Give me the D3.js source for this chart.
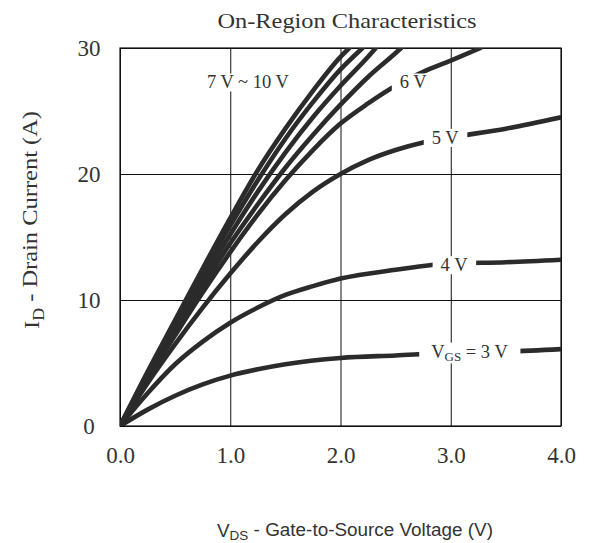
<!DOCTYPE html>
<html>
<head>
<meta charset="utf-8">
<script src="https://cdn.jsdelivr.net/npm/d3@7"></script>
<style>
  body { margin: 0; background: #fff; }
  text { font-family: "Liberation Serif", "Times New Roman", serif; fill: #333; }
  .sans { font-family: "Liberation Sans", Arial, sans-serif; }
</style>
</head>
<body>
<svg id="chart" width="593" height="543"></svg>
<script>
// [VDS (V), ID (A)]
var vgs3 = [[0,0],[0.25,1.3],[0.5,2.4],[0.75,3.3],[1.0,4.0],[1.25,4.5],[1.5,4.9],[2.0,5.4],[2.5,5.6],[3.0,5.8],[3.5,5.9],[4.0,6.1]];
var vgs4 = [[0,0],[0.25,2.6],[0.5,4.9],[0.75,6.7],[1.0,8.2],[1.25,9.4],[1.5,10.4],[1.75,11.1],[2.0,11.7],[2.5,12.4],[3.0,12.9],[3.5,13.0],[4.0,13.2]];
var vgs5 = [[0,0],[0.25,3.4],[0.5,6.5],[0.75,9.4],[1.0,12.1],[1.25,14.6],[1.5,16.8],[1.75,18.6],[2.0,20.0],[2.25,21.1],[2.5,21.9],[2.75,22.5],[3.0,22.9],[3.5,23.6],[4.0,24.5]];
var vgs6 = [[0,0],[0.25,3.7],[0.5,7.2],[0.75,10.6],[1.0,13.8],[1.25,16.8],[1.5,19.5],[1.75,21.9],[2.0,24.0],[2.25,25.6],[2.5,27.0],[2.75,28.1],[3.0,29.0],[3.27,30]];
var vgs7 = [[0,0],[0.25,3.9],[0.5,7.6],[0.75,11.1],[1.0,14.5],[1.25,17.6],[1.5,20.5],[1.75,23.1],[2.0,25.5],[2.25,27.7],[2.5,29.6],[2.55,30]];
var vgs8 = [[0,0],[0.25,4.0],[0.5,7.9],[0.75,11.6],[1.0,15.2],[1.25,18.6],[1.5,21.7],[1.75,24.5],[2.0,27.0],[2.25,29.3],[2.32,30]];
var vgs9 = [[0,0],[0.25,4.2],[0.5,8.2],[0.75,12.1],[1.0,15.9],[1.25,19.5],[1.5,22.8],[1.75,25.7],[2.0,28.3],[2.2,30]];
var vgs10 = [[0,0],[0.25,4.3],[0.5,8.4],[0.75,12.5],[1.0,16.5],[1.25,20.3],[1.5,23.6],[1.75,26.6],[2.0,29.3],[2.08,30]];

var xTicks = [0, 1, 2, 3, 4];
var yTicks = [0, 10, 20, 30];

// curve labels, anchored in data units
var labelText = ["7 V ~ 10 V", "6 V", "5 V", "4 V", "3 V"];
var labelVds = [1.16, 2.66, 2.95, 3.03, 3.17];
var labelId = [27.3, 27.3, 22.9, 12.8, 5.9];

var svg = d3.select("#chart");
var plotL = 120, plotR = 561, plotT = 48, plotB = 426;

var x = d3.scaleLinear().domain([0, 4]).range([plotL, plotR]);
var y = d3.scaleLinear().domain([0, 30]).range([plotB, plotT]);

svg.append("defs").append("clipPath").attr("id", "plot")
  .append("rect").attr("x", plotL).attr("y", plotT)
  .attr("width", plotR - plotL).attr("height", plotB - plotT);

// grid + x tick labels
var gx = svg.append("g").attr("transform", "translate(0," + plotB + ")")
  .call(d3.axisBottom(x).tickValues(xTicks).tickFormat(d3.format(".1f"))
    .tickSize(-(plotB - plotT)).tickPadding(21));
gx.select(".domain").remove();
gx.selectAll("line").attr("stroke", "#111");
gx.selectAll("text").attr("font-size", 23).attr("font-family", "Liberation Serif").attr("fill", "#333");

var gy = svg.append("g").attr("transform", "translate(" + plotL + ",0)")
  .call(d3.axisLeft(y).tickValues(yTicks).tickSize(-(plotR - plotL)).tickPadding(20));
gy.select(".domain").remove();
gy.selectAll("line").attr("stroke", "#111");
gy.selectAll("text").attr("font-size", 23).attr("font-family", "Liberation Serif").attr("fill", "#333")
  .attr("text-anchor", "middle").attr("x", -31);

svg.append("rect").attr("x", plotL).attr("y", plotT)
  .attr("width", plotR - plotL).attr("height", plotB - plotT)
  .attr("fill", "none").attr("stroke", "#111").attr("stroke-width", 1.2);

// curves
var line = d3.line().x(function(d) { return x(d[0]); }).y(function(d) { return y(d[1]); })
  .curve(d3.curveMonotoneX);

var series = [vgs3, vgs4, vgs5, vgs6, vgs7, vgs8, vgs9, vgs10];
svg.append("g").attr("clip-path", "url(#plot)")
  .selectAll("path").data(series).enter().append("path")
  .attr("d", line)
  .attr("fill", "none")
  .attr("stroke", "#2b2b2b")
  .attr("stroke-width", 4.6)
  .attr("stroke-linecap", "round");

// labels with white knock-out behind them
labelText.forEach(function(t, i) {
  var g = svg.append("g");
  var bg = g.append("rect").attr("fill", "#fff");
  var txt = g.append("text")
    .attr("x", x(labelVds[i])).attr("y", y(labelId[i]))
    .attr("dy", "0.35em")
    .attr("text-anchor", "middle")
    .attr("font-size", 18.5);
  if (i == 4) {
    txt.append("tspan").text("V");
    txt.append("tspan").text("GS").attr("font-size", 13).attr("dy", "0.25em");
    txt.append("tspan").text(" = 3 V").attr("dy", "-0.2em");
  } else {
    txt.text(t);
  }
  var b = txt.node().getBBox();
  var pad = i == 4 ? 12 : 8;
  bg.attr("x", b.x - pad).attr("y", b.y + 1)
    .attr("width", b.width + 2 * pad).attr("height", b.height - 2);
});

// title
svg.append("text").attr("x", 347).attr("y", 28)
  .attr("text-anchor", "middle").attr("font-size", 21)
  .attr("textLength", 259).attr("lengthAdjust", "spacingAndGlyphs")
  .text("On-Region Characteristics");

// y title
var yt = svg.append("text")
  .attr("transform", "translate(39,220) rotate(-90)")
  .attr("text-anchor", "middle").attr("font-size", 22)
  .attr("textLength", 218).attr("lengthAdjust", "spacingAndGlyphs");
yt.append("tspan").text("I");
yt.append("tspan").text("D").attr("font-size", 16).attr("dy", "0.3em");
yt.append("tspan").text(" - Drain Current (A)").attr("dy", "-0.3em");

// x title
var xt = svg.append("text").attr("class", "sans")
  .attr("x", 355).attr("y", 537)
  .attr("text-anchor", "middle").attr("font-size", 17.5)
  .attr("textLength", 276).attr("lengthAdjust", "spacingAndGlyphs");
xt.append("tspan").text("V");
xt.append("tspan").text("DS").attr("font-size", 12.5).attr("dy", "0.25em");
xt.append("tspan").text(" - Gate-to-Source Voltage (V)").attr("dy", "-0.25em");
</script>
</body>
</html>
